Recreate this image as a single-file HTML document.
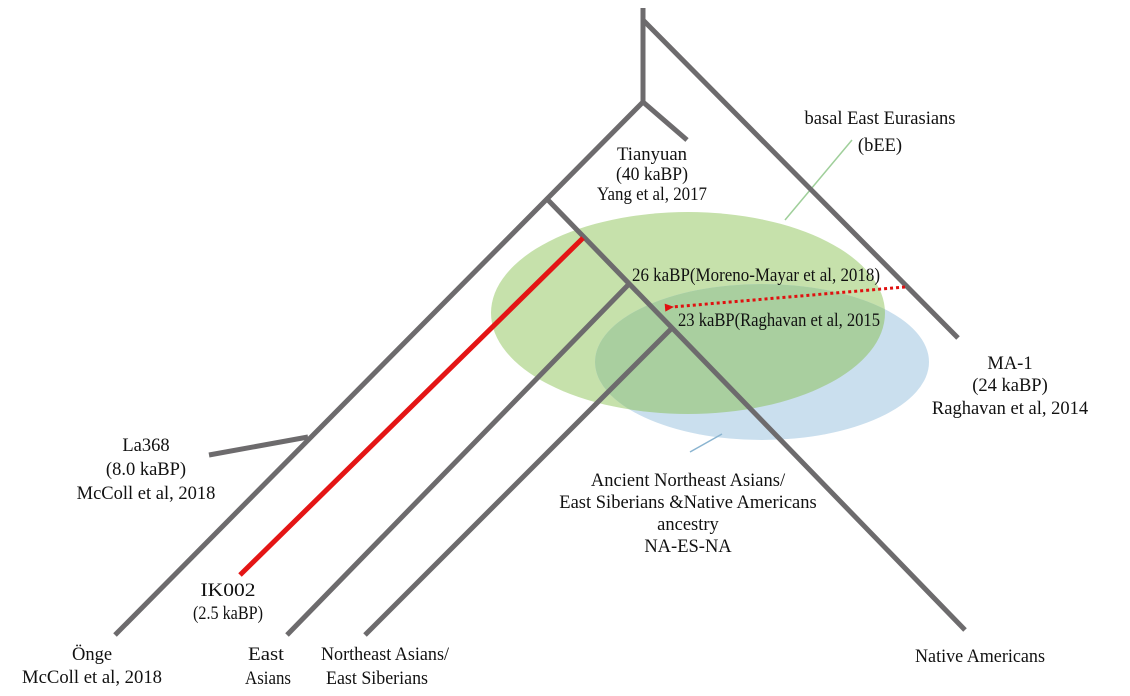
<!DOCTYPE html>
<html><head><meta charset="utf-8"><style>
html,body{margin:0;padding:0;background:#fff;}
svg{display:block;}
text{font-family:"Liberation Serif",serif;font-size:18.5px;fill:#111;text-anchor:middle;}
</style></head><body>
<svg width="1130" height="696" viewBox="0 0 1130 696" xmlns="http://www.w3.org/2000/svg">
<defs><marker id="ah" markerUnits="userSpaceOnUse" markerWidth="10" markerHeight="10" refX="2" refY="5" orient="auto"><path d="M9,1 L0,5 L9,9 z" fill="#e01010"/></marker></defs>
<ellipse cx="688" cy="313" rx="197" ry="101" fill="#c6e1ab"/>
<ellipse cx="762" cy="362" rx="167" ry="78" fill="#cadfee"/>
<clipPath id="g"><ellipse cx="688" cy="313" rx="197" ry="101"/></clipPath>
<ellipse cx="762" cy="362" rx="167" ry="78" fill="#a9cf9f" clip-path="url(#g)"/>
<line x1="785" y1="220" x2="852" y2="140" stroke="#9fcf9a" stroke-width="1.5"/>
<line x1="722" y1="434" x2="690" y2="452" stroke="#8ab4d0" stroke-width="1.5"/>
<g stroke="#6d6b6d" stroke-width="5" fill="none" stroke-linecap="butt">
<line x1="643" y1="8" x2="643" y2="102"/>
<line x1="643" y1="20" x2="958" y2="338"/>
<line x1="643" y1="102" x2="115" y2="635"/>
<line x1="643" y1="102" x2="687" y2="140"/>
<line x1="548" y1="200" x2="965" y2="630"/>
<line x1="630" y1="283" x2="287" y2="635"/>
<line x1="672" y1="328" x2="365" y2="635"/>
<line x1="209" y1="455" x2="308" y2="437"/>
</g>
<line x1="583" y1="238" x2="240" y2="575" stroke="#e41515" stroke-width="5"/>
<line x1="905" y1="287" x2="672" y2="307" stroke="#e01010" stroke-width="3" stroke-dasharray="3,3" marker-end="url(#ah)"/>
<text x="880" y="124">basal East Eurasians</text>
<text x="880" y="151">(bEE)</text>
<text x="652" y="160" textLength="70" lengthAdjust="spacingAndGlyphs">Tianyuan</text>
<text x="652" y="180" textLength="72" lengthAdjust="spacingAndGlyphs">(40 kaBP)</text>
<text x="652" y="200" textLength="110" lengthAdjust="spacingAndGlyphs">Yang et al, 2017</text>
<text x="632" y="281" style="text-anchor:start" textLength="248" lengthAdjust="spacingAndGlyphs">26 kaBP(Moreno-Mayar et al, 2018)</text>
<text x="678" y="326" style="text-anchor:start" textLength="202" lengthAdjust="spacingAndGlyphs">23 kaBP(Raghavan et al, 2015</text>
<text x="1010" y="369">MA-1</text>
<text x="1010" y="391">(24 kaBP)</text>
<text x="1010" y="414">Raghavan et al, 2014</text>
<text x="146" y="451">La368</text>
<text x="146" y="475">(8.0 kaBP)</text>
<text x="146" y="499">McColl et al, 2018</text>
<text x="228" y="596" textLength="55" lengthAdjust="spacingAndGlyphs">IK002</text>
<text x="228" y="619" textLength="70" lengthAdjust="spacingAndGlyphs">(2.5 kaBP)</text>
<text x="92" y="660">Önge</text>
<text x="92" y="683" textLength="140" lengthAdjust="spacingAndGlyphs">McColl et al, 2018</text>
<text x="266" y="660" textLength="36" lengthAdjust="spacingAndGlyphs">East</text>
<text x="268" y="684" textLength="46" lengthAdjust="spacingAndGlyphs">Asians</text>
<text x="385" y="660" textLength="128" lengthAdjust="spacingAndGlyphs">Northeast Asians/</text>
<text x="377" y="684" textLength="102" lengthAdjust="spacingAndGlyphs">East Siberians</text>
<text x="980" y="662" textLength="130" lengthAdjust="spacingAndGlyphs">Native Americans</text>
<text x="688" y="486">Ancient Northeast Asians/</text>
<text x="688" y="508">East Siberians &amp;Native Americans</text>
<text x="688" y="530">ancestry</text>
<text x="688" y="552">NA-ES-NA</text>
</svg>
</body></html>
